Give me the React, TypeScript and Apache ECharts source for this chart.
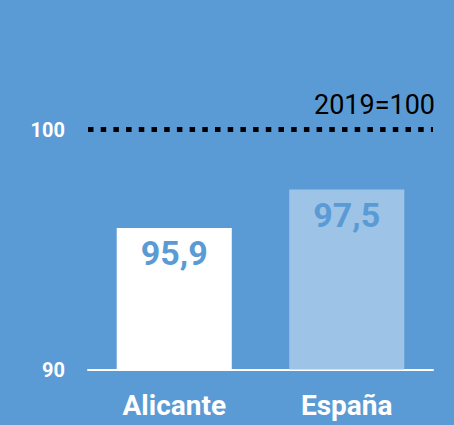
import React, { useEffect, useRef } from "react";
import * as echarts from "echarts";

const categories = ["Alicante", "España"];
const values = [95.9, 97.5];
const barColors = ["#ffffff", "#9dc3e6"];
const baseValue = 100;
const baseLabel = "2019=100";
const yMin = 90;
const yMax = 100;

const BG = "#5b9bd5";
const FONT = "Roboto, 'Liberation Sans', sans-serif";

export default function App() {
  const ref = useRef<HTMLDivElement>(null);
  useEffect(() => {
    if (!ref.current) return;
    const chart = echarts.init(ref.current, null, { renderer: "svg" });
    chart.setOption({
      animation: false,
      backgroundColor: BG,
      grid: { left: 88, right: 21, top: 129.5, bottom: 55.5 },
      xAxis: {
        type: "category",
        data: categories,
        axisLine: { show: true, lineStyle: { color: "#ffffff", width: 2 } },
        axisTick: { show: false },
        axisLabel: {
          color: "#ffffff",
          fontFamily: FONT,
          fontWeight: "bold",
          fontSize: 28,
          margin: 22,
        },
      },
      yAxis: {
        type: "value",
        min: yMin,
        max: yMax,
        interval: 10,
        splitLine: { show: false },
        axisLine: { show: false },
        axisTick: { show: false },
        axisLabel: {
          color: "#ffffff",
          fontFamily: FONT,
          fontWeight: "bold",
          fontSize: 20,
          margin: 23,
        },
      },
      series: [
        {
          type: "bar",
          barWidth: "66.7%",
          data: values.map((v, i) => ({ value: v, itemStyle: { color: barColors[i] } })),
          label: {
            show: true,
            position: "insideTop",
            distance: 8,
            color: BG,
            fontFamily: FONT,
            fontWeight: "bold",
            fontSize: 34,
            formatter: (p: any) => String(p.value).replace(".", ","),
          },
          markLine: {
            silent: true,
            symbol: ["none", "none"],
            lineStyle: { color: "#000000", width: 5, type: [5.5, 7.2], cap: "butt" },
            label: {
              show: true,
              position: "insideEndTop",
              distance: [-2, 11],
              color: "#000000",
              fontFamily: FONT,
              fontSize: 27,
              formatter: baseLabel,
            },
            data: [{ yAxis: baseValue }],
          },
        },
      ],
    });
    return () => chart.dispose();
  }, []);
  return (
    <div
      ref={ref}
      style={{ position: "absolute", left: 0, top: 0, width: 454, height: 425 }}
    />
  );
}
